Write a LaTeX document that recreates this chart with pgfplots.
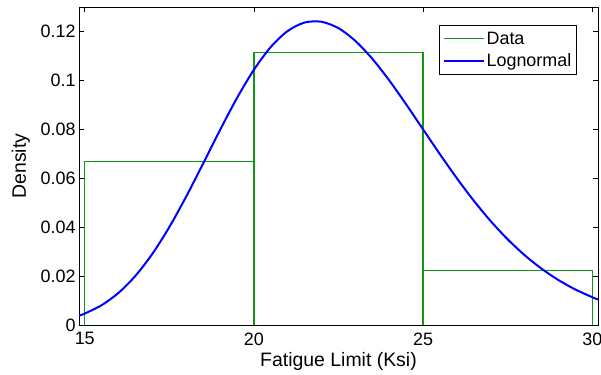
\documentclass[border=0pt]{standalone}
\usepackage{fontspec}
\setmainfont{Liberation Sans}
\usepackage{pgfplots}
\pgfplotsset{compat=1.18}
\definecolor{mgreen}{RGB}{20,150,20}
\definecolor{mblue}{RGB}{0,0,255}
\begin{document}
\begin{tikzpicture}
\begin{axis}[name=ax, scale only axis, width=519bp, height=318bp,
  xmin=14.83, xmax=30.17, ymin=0, ymax=0.1298,
  xtick={15,20,25,30}, xticklabels={15,20,25,30},
  ytick={0,0.02,0.04,0.06,0.08,0.1,0.12},
  yticklabels={0,0.02,0.04,0.06,0.08,0.1,0.12},
  scaled y ticks=false, scaled x ticks=false,
  tick align=inside, tickpos=both, major tick length=5bp,
  tick style={black, line width=0.6bp},
  axis line style={black, line width=0.8bp},
  tick label style={font=\fontsize{18}{20}\selectfont},
  xticklabel style={yshift=-4bp},
  xlabel={Fatigue Limit (Ksi)}, ylabel={Density},
  label style={font=\fontsize{19.5}{22}\selectfont},
  xlabel style={at={(axis description cs:0.5,0)}, anchor=base, yshift=-41.7bp},
  ylabel style={at={(axis description cs:-0.112,0.5)}, anchor=center},
  legend cell align=left,
  legend style={at={(rel axis cs:0.959,0.942)}, anchor=north east,
    font=\fontsize{18}{20}\selectfont, line width=0.8bp,
    inner xsep=3bp, inner ysep=2bp, row sep=0bp,
    nodes={inner xsep=2bp, inner ysep=4bp}},
  legend image code/.code={\draw[#1] (0bp,0bp) -- (40bp,0bp);},
]
\addplot[mgreen, line width=1.3bp] coordinates {
  (15,0) (15,0.066667) (20,0.066667) (20,0.111111) (25,0.111111)
  (25,0.022222) (30,0.022222) (30,0)
};
\addlegendentry{Data}
\addplot[mblue, line width=2bp, smooth] coordinates {
  (14.83,0.003816) (15,0.004675) (15.5,0.008102) (16,0.013151) (16.5,0.020100)
  (17,0.029076) (17.5,0.039980) (18,0.052462) (18.5,0.065934) (19,0.079622)
  (19.5,0.092662) (20,0.104199) (20.5,0.113502) (21,0.120021) (21.5,0.123461)
  (22,0.123773) (22.5,0.121142) (23,0.115933) (23.5,0.108643) (24,0.099831)
  (24.5,0.090057) (25,0.079850) (25.5,0.069669) (26,0.059863) (26.5,0.050709)
  (27,0.042380) (27.5,0.034974) (28,0.028521) (28.5,0.022998) (29,0.018350)
  (29.5,0.014497) (30,0.011345) (30.17,0.010416)
};
\addlegendentry{Lognormal}
\addplot[mgreen, line width=1.3bp, forget plot] coordinates {(20,0) (20,0.066667)};
\addplot[mgreen, line width=1.3bp, forget plot] coordinates {(25,0) (25,0.022222)};
\end{axis}
\pgfresetboundingbox
\path ([xshift=-79bp,yshift=-50bp]ax.south west) rectangle ([xshift=3bp,yshift=7bp]ax.north east);
\end{tikzpicture}
\end{document}
